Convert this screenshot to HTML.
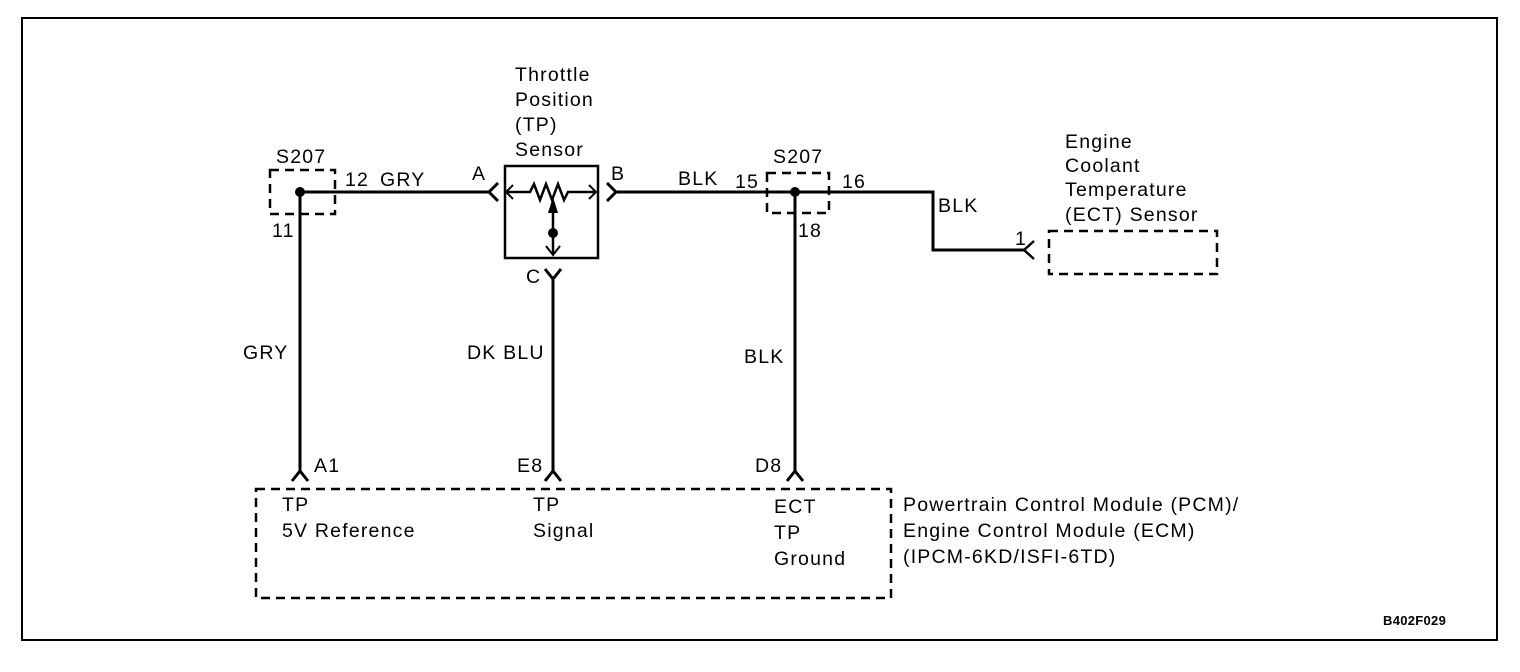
<!DOCTYPE html>
<html><head><style>
html,body{margin:0;padding:0;background:#fff;}
svg{display:block;}
text{font-family:"Liberation Sans",Arial,sans-serif;font-size:19.5px;letter-spacing:1.2px;fill:#000;}
</style></head><body>
<svg width="1520" height="672" viewBox="0 0 1520 672" xmlns="http://www.w3.org/2000/svg">
<rect x="22" y="18" width="1475" height="622" fill="none" stroke="#000" stroke-width="2"/>
<g fill="none" stroke="#000" stroke-width="3">
<polyline points="300,192 490,192"/>
<polyline points="300,192 300,471"/>
<polyline points="292,481 300,471 308,481"/>
<polyline points="498,183 489,192 498,201"/>
<rect x="505" y="166" width="93" height="92" stroke-width="2.5"/>
<polyline points="507,192 530,192 534,184 540,200 546,184 552,200 558,184 564,200 568,192 596,192" stroke-width="2.5"/>
<polyline points="513,185 506,192 513,199" stroke-width="2"/>
<polyline points="589,185 596,192 589,199" stroke-width="2"/>
<line x1="553" y1="205" x2="553" y2="254" stroke-width="2.5"/>
<polyline points="546,246 553,255 560,246" stroke-width="2"/>
<polyline points="545,269 553,279 561,269"/>
<line x1="553" y1="279" x2="553" y2="471"/>
<polyline points="545,481 553,471 561,481"/>
<polyline points="607,183 616,192 607,201"/>
<polyline points="616,192 933,192 933,250 1024,250"/>
<polyline points="1034,241 1024,250 1034,259" stroke-width="2.5"/>
<line x1="795" y1="192" x2="795" y2="471"/>
<polyline points="787,481 795,471 803,481"/>
</g>
<polygon points="553,197 548,213 558,213" fill="#000"/>
<circle cx="300" cy="192" r="5" fill="#000"/>
<circle cx="795" cy="192" r="5" fill="#000"/>
<circle cx="553" cy="233" r="5" fill="#000"/>
<g fill="none" stroke="#000" stroke-width="2.5" stroke-dasharray="9,6">
<rect x="270" y="170" width="65" height="44"/>
<rect x="767" y="173" width="62" height="40"/>
<rect x="1049" y="231" width="168" height="43"/>
<rect x="256" y="489" width="635" height="109"/>
</g>
<text x="515" y="81">Throttle</text>
<text x="515" y="106">Position</text>
<text x="515" y="131">(TP)</text>
<text x="515" y="156">Sensor</text>
<text x="276" y="163">S207</text>
<text x="345" y="186">12</text>
<text x="380" y="186">GRY</text>
<text x="472" y="180">A</text>
<text x="272" y="237">11</text>
<text x="611" y="180">B</text>
<text x="678" y="185">BLK</text>
<text x="735" y="188">15</text>
<text x="773" y="163">S207</text>
<text x="842" y="188">16</text>
<text x="798" y="237">18</text>
<text x="938" y="212">BLK</text>
<text x="1015" y="245">1</text>
<text x="1065" y="148">Engine</text>
<text x="1065" y="172">Coolant</text>
<text x="1065" y="196">Temperature</text>
<text x="1065" y="221">(ECT) Sensor</text>
<text x="526" y="283">C</text>
<text x="243" y="359">GRY</text>
<text x="467" y="359">DK BLU</text>
<text x="744" y="363">BLK</text>
<text x="314" y="472">A1</text>
<text x="517" y="472">E8</text>
<text x="755" y="472">D8</text>
<text x="282" y="511">TP</text>
<text x="282" y="537">5V Reference</text>
<text x="533" y="511">TP</text>
<text x="533" y="537">Signal</text>
<text x="774" y="513">ECT</text>
<text x="774" y="539">TP</text>
<text x="774" y="565">Ground</text>
<text x="903" y="511">Powertrain Control Module (PCM)/</text>
<text x="903" y="537">Engine Control Module (ECM)</text>
<text x="903" y="563">(IPCM-6KD/ISFI-6TD)</text>
<text x="1383" y="625" style="font-size:13px;font-weight:bold;letter-spacing:0.3px">B402F029</text>
</svg>
</body></html>
